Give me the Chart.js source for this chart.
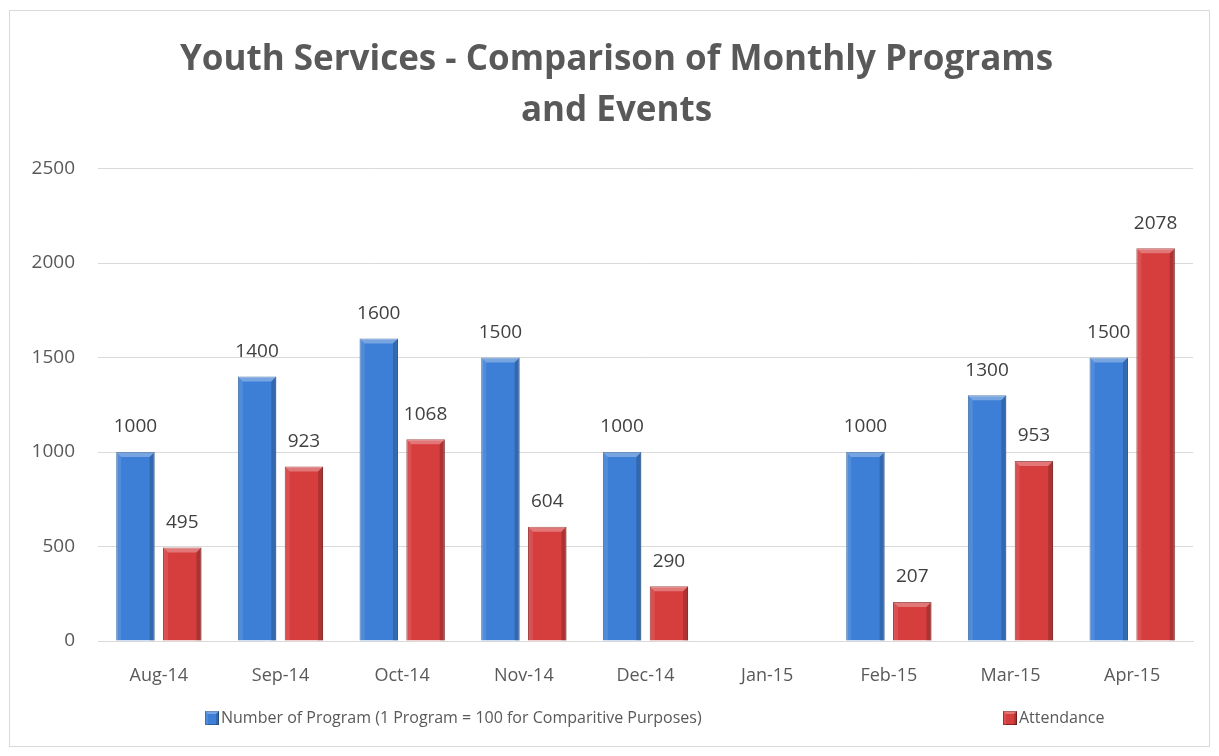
<!DOCTYPE html>
<html>
<head>
<meta charset="utf-8">
<script src="https://cdn.jsdelivr.net/npm/chart.js@4.4.1/dist/chart.umd.min.js"></script>
<style>
  body { margin: 0; background: #fff; }
  #wrap { position: absolute; left: 9px; top: 10px; width: 1199px; height: 735px; border: 1px solid #d9d9d9; }
  canvas { position: absolute; left: 0; top: 0; }
</style>
</head>
<body>
<div id="wrap"></div>
<canvas id="chart" width="1219" height="756"></canvas>
<script>
// 데이터
var months = ["Aug-14", "Sep-14", "Oct-14", "Nov-14", "Dec-14", "Jan-15", "Feb-15", "Mar-15", "Apr-15"];
var programs = [1000, 1400, 1600, 1500, 1000, null, 1000, 1300, 1500];
var attendance = [495, 923, 1068, 604, 290, null, 207, 953, 2078];
var yTicks = [0, 500, 1000, 1500, 2000, 2500];

var textColor = "#595959";
var fontName = "'Open Sans', 'Liberation Sans', sans-serif";

// 막대 위 숫자 그리기
var valueLabels = {
  id: "valueLabels",
  afterDatasetsDraw: function(chart) {
    var ctx = chart.ctx;
    ctx.save();
    ctx.font = "19px " + fontName;
    ctx.fillStyle = "#404040";
    ctx.textAlign = "center";
    ctx.textBaseline = "middle";
    chart.data.datasets.forEach(function(ds, i) {
      chart.getDatasetMeta(i).data.forEach(function(bar, j) {
        if (ds.data[j] == null) return;
        ctx.fillText(ds.data[j], bar.x, bar.y - 25);
      });
    });
    ctx.restore();
  }
};

// 막대 입체감
function drawBevel(ctx, l, t, r, b, d) {
  ctx.fillStyle = "rgba(255,255,255,0.30)";
  ctx.beginPath();
  ctx.moveTo(l, t); ctx.lineTo(r, t); ctx.lineTo(r - d, t + d); ctx.lineTo(l + d, t + d);
  ctx.closePath(); ctx.fill();
  ctx.fillStyle = "rgba(0,0,0,0.18)";
  ctx.beginPath();
  ctx.moveTo(r, t); ctx.lineTo(r, b); ctx.lineTo(r - d, b); ctx.lineTo(r - d, t + d);
  ctx.closePath(); ctx.fill();
  ctx.fillStyle = "rgba(255,255,255,0.10)";
  ctx.beginPath();
  ctx.moveTo(l, t); ctx.lineTo(l + d, t + d); ctx.lineTo(l + d, b); ctx.lineTo(l, b);
  ctx.closePath(); ctx.fill();
}

var bevel = {
  id: "bevel",
  afterDatasetsDraw: function(chart) {
    var ctx = chart.ctx;
    ctx.save();
    chart.data.datasets.forEach(function(ds, i) {
      chart.getDatasetMeta(i).data.forEach(function(bar, j) {
        if (ds.data[j] == null) return;
        drawBevel(ctx, bar.x - bar.width / 2, bar.y, bar.x + bar.width / 2, bar.base, 5);
      });
    });
    ctx.restore();
  }
};

// 제목을 테두리 가운데로 옮기기
var titleShift = {
  id: "titleShift",
  afterLayout: function(chart) {
    if (chart.titleBlock) {
      chart.titleBlock.left += 10;
      chart.titleBlock.right += 10;
    }
  }
};

// 범례 (아래쪽)
var legendX = [205, 1003];
var bottomLegend = {
  id: "bottomLegend",
  afterDraw: function(chart) {
    var ctx = chart.ctx;
    ctx.save();
    ctx.font = "16px " + fontName;
    ctx.textBaseline = "middle";
    chart.data.datasets.forEach(function(ds, i) {
      var x = legendX[i], y = 718;
      ctx.fillStyle = ds.backgroundColor;
      ctx.fillRect(x, y - 7, 14, 14);
      ctx.strokeStyle = ds.borderColor;
      ctx.lineWidth = 1;
      ctx.strokeRect(x + 0.5, y - 6.5, 13, 13);
      drawBevel(ctx, x, y - 7, x + 14, y + 7, 3);
      ctx.fillStyle = textColor;
      ctx.fillText(ds.label, x + 16, y);
    });
    ctx.restore();
  }
};

new Chart(document.getElementById("chart"), {
  type: "bar",
  data: {
    labels: months,
    datasets: [{
      label: "Number of Program (1 Program = 100 for Comparitive Purposes)",
      data: programs,
      backgroundColor: "#3d7fd6",
      borderColor: "#2c609f",
      borderWidth: 1,
      barPercentage: 0.82,
      categoryPercentage: 0.77
    }, {
      label: "Attendance",
      data: attendance,
      backgroundColor: "#d63d3d",
      borderColor: "#8f2020",
      borderWidth: 1,
      barPercentage: 0.82,
      categoryPercentage: 0.77
    }]
  },
  options: {
    responsive: false,
    animation: false,
    layout: { padding: { left: 20, right: 26, top: 18, bottom: 69 } },
    plugins: {
      title: {
        display: true,
        text: ["Youth Services - Comparison of Monthly Programs", "and Events"],
        color: textColor,
        font: { family: fontName, size: 35, weight: "bold", lineHeight: 1.45 },
        padding: { top: 17, bottom: 32 }
      },
      legend: { display: false },
      tooltip: { enabled: false }
    },
    scales: {
      x: {
        grid: { display: false },
        border: { color: "#d9d9d9" },
        afterFit: function(axis) { axis.height = 46; },
        ticks: { color: textColor, font: { family: fontName, size: 18 }, padding: 16 }
      },
      y: {
        min: 0,
        max: 2500,
        afterBuildTicks: function(axis) {
          axis.ticks = yTicks.map(function(v) { return { value: v }; });
        },
        afterFit: function(axis) { axis.width = 78; },
        grid: { color: "#d9d9d9", drawTicks: false },
        border: { display: false },
        ticks: {
          color: textColor,
          font: { family: fontName, size: 19 },
          padding: 23,
          callback: function(v) { return String(v); }
        }
      }
    }
  },
  plugins: [titleShift, valueLabels, bevel, bottomLegend]
});
</script>
</body>
</html>
